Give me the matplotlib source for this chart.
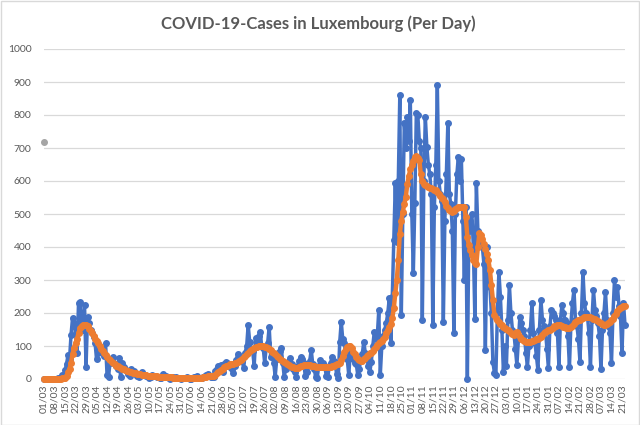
import numpy as np
import pandas as pd
import matplotlib
matplotlib.use("Agg")
import matplotlib.pyplot as plt
from matplotlib.patches import Rectangle

plt.rcParams['font.family'] = ['Lato', 'DejaVu Sans']

# daily dates, 01/03/2020 .. 23/03/2021
dates = pd.date_range("2020-03-01", "2021-03-23", freq="D")

# new cases per day (one row = one week starting on Sunday)
daily_cases = [
    0, 0, 0, 1, 0, 1, 0,
    1, 0, 2, 0, 3, 12, 8,
    27, 45, 73, 60, 133, 185, 170,
    140, 79, 231, 234, 170, 150, 224,
    37, 189, 170, 150, 140, 128, 110,
    60, 79, 98, 85, 80, 70, 109,
    12, 7, 50, 60, 68, 45, 40,
    30, 64, 7, 50, 35, 30, 25,
    15, 10, 30, 20, 25, 15, 10,
    5, 8, 20, 15, 12, 10, 8,
    3, 5, 12, 10, 8, 6, 5,
    2, 4, 15, 10, 8, 5, 3,
    1, 2, 5, 4, 6, 3, 2,
    0, 2, 4, 3, 5, 2, 1,
    1, 3, 5, 6, 8, 4, 2,
    2, 5, 10, 12, 15, 8, 5,
    5, 7, 25, 30, 38, 28, 42,
    20, 45, 52, 48, 42, 35, 30,
    18, 40, 58, 75, 70, 65, 55,
    33, 80, 100, 164, 113, 90, 85,
    40, 124, 110, 130, 143, 100, 95,
    48, 95, 110, 158, 68, 70, 50,
    7, 60, 80, 85, 94, 50, 7,
    30, 45, 55, 64, 45, 30, 20,
    7, 40, 55, 68, 60, 50, 10,
    20, 40, 55, 88, 45, 30, 5,
    3, 40, 58, 45, 50, 40, 10,
    7, 35, 50, 68, 55, 40, 15,
    3, 113, 174, 120, 110, 95, 60,
    12, 80, 70, 60, 50, 45, 12,
    30, 60, 75, 113, 80, 65, 40,
    20, 52, 100, 143, 120, 130, 209,
    12, 100, 130, 150, 170, 200, 245,
    108, 250, 420, 593, 416, 600, 861,
    194, 500, 775, 700, 795, 720, 845,
    500, 320, 532, 805, 800, 720, 700,
    179, 600, 795, 704, 650, 620, 560,
    164, 520, 650, 891, 600, 560, 540,
    172, 480, 620, 775, 560, 530, 450,
    138, 500, 620, 674, 600, 668, 480,
    300, 522, 0, 450, 480, 500, 400,
    181, 593, 450, 430, 420, 400, 350,
    88, 400, 330, 280, 200, 52, 19,
    12, 200, 325, 250, 150, 22, 100,
    40, 180, 285, 200, 150, 140, 90,
    42, 120, 189, 170, 150, 130, 80,
    37, 100, 150, 229, 140, 110, 70,
    27, 150, 239, 180, 160, 150, 90,
    32, 160, 209, 200, 190, 180, 140,
    37, 180, 224, 200, 180, 170, 130,
    37, 170, 230, 270, 180, 160, 120,
    52, 200, 325, 230, 200, 190, 140,
    37, 180, 270, 210, 190, 170, 130,
    29, 150, 200, 265, 180, 160, 140,
    47, 200, 300, 250, 280, 220, 190,
    78, 230, 164,
]

# smoothed (weekly average) curve
weekly_avg = [
    0, 0, 0, 0, 0, 0, 0,
    0, 0, 1, 1, 1, 2, 3,
    4, 10, 20, 30, 50, 75, 95,
    110, 120, 140, 155, 160, 164, 165,
    163, 160, 152, 145, 138, 130, 120,
    115, 108, 100, 92, 85, 78, 72,
    68, 62, 58, 52, 48, 44, 40,
    38, 36, 33, 31, 29, 27, 25,
    23, 21, 20, 19, 18, 17, 16,
    15, 14, 13, 12, 11, 11, 10,
    10, 9, 9, 8, 8, 8, 7,
    7, 7, 7, 7, 6, 6, 6,
    5, 5, 4, 4, 4, 3, 3,
    3, 3, 3, 3, 3, 3, 3,
    3, 3, 3, 4, 4, 4, 4,
    4, 5, 6, 7, 8, 8, 8,
    8, 10, 13, 17, 22, 25, 28,
    30, 35, 38, 40, 42, 44, 46,
    46, 48, 50, 52, 55, 58, 62,
    66, 70, 75, 80, 85, 88, 92,
    94, 96, 98, 100, 101, 101, 100,
    98, 96, 93, 90, 87, 83, 79,
    75, 70, 66, 62, 58, 55, 52,
    49, 46, 43, 40, 37, 35, 33,
    33, 34, 36, 38, 40, 42, 43,
    43, 42, 41, 40, 39, 38, 37,
    37, 37, 37, 37, 37, 37, 37,
    37, 37, 37, 38, 40, 42, 44,
    46, 48, 58, 70, 82, 90, 96,
    100, 100, 93, 83, 75, 68, 62,
    58, 55, 56, 60, 65, 70, 74,
    78, 80, 84, 92, 98, 104, 109,
    112, 115, 120, 128, 138, 148, 158,
    168, 185, 215, 260, 300, 360, 440,
    480, 507, 530, 552, 590, 615, 635,
    650, 662, 674, 676, 670, 664, 620,
    600, 592, 588, 585, 582, 580, 578,
    576, 574, 572, 568, 562, 555, 550,
    545, 535, 525, 517, 512, 510, 507,
    510, 515, 518, 520, 522, 522, 522,
    520, 490, 430, 405, 390, 375, 362,
    352, 350, 400, 441, 435, 425, 410,
    395, 378, 361, 330, 285, 240, 195,
    185, 178, 172, 168, 163, 158, 155,
    152, 148, 145, 140, 135, 133, 140,
    143, 135, 128, 122, 118, 115, 113,
    112, 112, 113, 114, 116, 118, 120,
    122, 123, 128, 133, 138, 142, 145,
    147, 148, 152, 156, 160, 162, 163,
    164, 163, 161, 159, 157, 156, 155,
    154, 157, 162, 168, 173, 176, 178,
    179, 182, 185, 188, 189, 189, 189,
    187, 185, 183, 181, 179, 177, 174,
    171, 168, 165, 164, 166, 170, 174,
    178, 183, 190, 198, 206, 212, 216,
    219, 221, 222,
]

# stray single point of a third series (grey)
extra_x = [0]
extra_y = [717]

assert len(daily_cases) == len(dates) == len(weekly_avg)

BLUE, ORANGE, GREY = "#4472C4", "#ED7D31", "#A5A5A5"
TXT = "#595959"

fig = plt.figure(figsize=(6.4, 4.25), dpi=100)
ax = fig.add_axes([44 / 640, 1 - 379 / 425, 581 / 640, 330 / 425])

x = np.arange(len(dates))
ax.plot(x, daily_cases, "-o", color=BLUE, lw=2.5, ms=4, clip_on=False, zorder=3)
ax.plot(x, weekly_avg, "-o", color=ORANGE, lw=3.2, ms=4, clip_on=False, zorder=4)
ax.plot(extra_x, extra_y, "o", color=GREY, ms=4, clip_on=False, zorder=5)

ax.set_xlim(0, len(dates) - 1)
ax.set_ylim(0, 1000)
ax.set_yticks(range(0, 1001, 100))
ax.grid(axis="y", color="#D9D9D9", lw=0.9)
ax.set_axisbelow(True)
for s in ax.spines.values():
    s.set_visible(False)

tick_pos = x[::7]
ax.set_xticks(tick_pos)
ax.set_xticklabels([dates[i].strftime("%d/%m") for i in tick_pos], rotation=90)
ax.tick_params(axis="both", length=0, colors=TXT, labelsize=7.5)
ax.tick_params(axis="y", pad=9)
ax.tick_params(axis="x", pad=4)

fig.text(0.497, 1 - 24 / 425, "COVID-19-Cases in Luxembourg (Per Day)",
         ha="center", va="center", fontsize=12, fontweight="bold", color=TXT)

fig.patches.append(Rectangle((0.001, 0.001), 0.997, 0.997, transform=fig.transFigure,
                             fill=False, edgecolor="#D9D9D9", lw=1))

fig.savefig("out.png", dpi=100)
